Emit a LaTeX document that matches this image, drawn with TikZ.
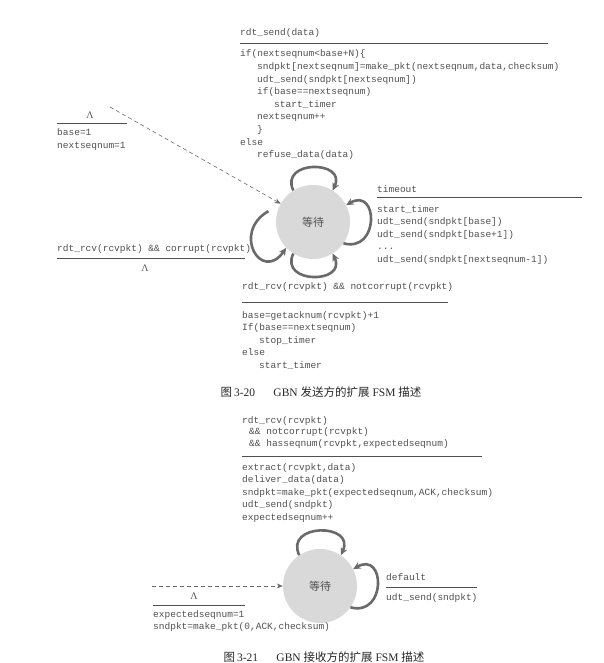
\documentclass[tikz,border=0pt]{standalone}
\usepackage{fontspec}
\setmainfont{Liberation Serif}
\setmonofont{Liberation Mono}
\newfontfamily\cjk{Noto Sans CJK SC}
\usetikzlibrary{arrows.meta}
\definecolor{txtgray}{HTML}{505050}
\definecolor{loopgray}{HTML}{6A6A6A}
\definecolor{stategray}{HTML}{D9D9D9}
\newcommand{\codefont}{\fontsize{9.5}{12.6}\selectfont\ttfamily}
\newcommand{\ind}{\hspace*{17pt}}
\begin{document}
\begin{tikzpicture}[x=1pt, y=1pt, >={Stealth[length=7.5pt, width=7pt]},
    code/.style={font=\codefont, text=txtgray, inner sep=0pt, anchor=base west, align=left},
    lam/.style={font=\fontsize{10}{10}\selectfont, text=txtgray, inner sep=0pt, anchor=base},
    state/.style={circle, fill=stategray, minimum size=74pt, inner sep=0pt,
      font=\cjk\fontsize{11}{11}\selectfont, text=txtgray},
    selfloop/.style={line width=2.6pt, draw=loopgray, ->},
    init/.style={draw=loopgray, line width=0.6pt, dash pattern=on 4pt off 3pt,
      -{Stealth[length=6pt, width=5pt]}},
    rule/.style={draw=txtgray, line width=0.7pt},
    caption/.style={font=\fontsize{11.5}{12}\selectfont, text=black!85}]
  \useasboundingbox (0,0) rectangle (604,-663);

  % sender (multi-line nodes sit on their last baseline)
  \node[state] (wait1) at (313,-222) {等待};
  \coordinate (start1) at (110,-107);
  \draw[init] (start1) -- (wait1);

  \node[lam] (lam1) at (90,-119) {Λ};
  \draw[rule] (57,-123) -- (127,-123);
  \node[code] (init1) at (57,-148.6) {base=1\\nextseqnum=1};

  \node[code] (sendev) at (240,-36) {rdt\_send(data)};
  \draw[rule] (240,-43) -- (548,-43);
  \node[code] (sendact) at (240,-157.8) {if(nextseqnum<base+N)\{\\
    \ind sndpkt[nextseqnum]=make\_pkt(nextseqnum,data,checksum)\\
    \ind udt\_send(sndpkt[nextseqnum])\\
    \ind if(base==nextseqnum)\\
    \ind\ind start\_timer\\
    \ind nextseqnum++\\
    \ind \}\\
    else\\
    \ind refuse\_data(data)};

  \node[code] (toev) at (377,-192) {timeout};
  \draw[rule] (377,-197) -- (582,-197);
  \node[code] (toact) at (377,-262.4) {start\_timer\\
    udt\_send(sndpkt[base])\\
    udt\_send(sndpkt[base+1])\\
    ...\\
    udt\_send(sndpkt[nextseqnum-1])};

  \node[code] (correv) at (57,-251) {rdt\_rcv(rcvpkt) \&\& corrupt(rcvpkt)};
  \draw[rule] (57,-258) -- (245,-258);
  \node[lam] (lam2) at (145,-271) {Λ};

  \node[code] (ackev) at (242,-289) {rdt\_rcv(rcvpkt) \&\& notcorrupt(rcvpkt)};
  \draw[rule] (242,-302) -- (448,-302);
  \node[code] (ackact) at (242,-368.4) {base=getacknum(rcvpkt)+1\\
    If(base==nextseqnum)\\
    \ind stop\_timer\\
    else\\
    \ind start\_timer};

  \draw[selfloop] (wait1.122) to[out=115, in=65, looseness=2.2] (wait1.58);
  \draw[selfloop] (wait1.-35) to[out=-15, in=30, looseness=2.5] (wait1.27);
  \draw[selfloop] (wait1.-122) to[out=-115, in=-65, looseness=2.2] (wait1.-58);
  \draw[selfloop] ([xshift=-9pt]wait1.163) to[out=210, in=235, looseness=2.7] (wait1.-136);

  \node[caption] (cap1) at (321,-392) {{\cjk 图}\,3-20\hspace{1.6em}GBN {\cjk 发送方的扩展} FSM {\cjk 描述}};

  % receiver
  \node[code, font=\fontsize{9.5}{11.7}\selectfont\ttfamily] (rcvev) at (242,-446.4) {rdt\_rcv(rcvpkt)\\
    \hspace*{7pt}\&\& notcorrupt(rcvpkt)\\
    \hspace*{7pt}\&\& hasseqnum(rcvpkt,expectedseqnum)};
  \draw[rule] (242,-456) -- (482,-456);
  \node[code] (rcvact) at (242,-520.4) {extract(rcvpkt,data)\\
    deliver\_data(data)\\
    sndpkt=make\_pkt(expectedseqnum,ACK,checksum)\\
    udt\_send(sndpkt)\\
    expectedseqnum++};

  \node[state] (wait2) at (320,-586) {等待};
  \coordinate (start2) at (152,-586);
  \draw[init] (start2) -- (wait2);

  \node[lam] (lam3) at (194,-599) {Λ};
  \draw[rule] (153,-605) -- (245,-605);
  \node[code] (init2) at (153,-629.6) {expectedseqnum=1\\sndpkt=make\_pkt(0,ACK,checksum)};

  \node[code] (defev) at (386,-580) {default};
  \draw[rule] (386,-587) -- (477,-587);
  \node[code] (defact) at (386,-600) {udt\_send(sndpkt)};

  \draw[selfloop] (wait2.124) to[out=115, in=65, looseness=2.2] (wait2.56);
  \draw[selfloop] (wait2.-35) to[out=-15, in=30, looseness=2.5] (wait2.27);

  \node[caption] (cap2) at (324,-657) {{\cjk 图}\,3-21\hspace{1.6em}GBN {\cjk 接收方的扩展} FSM {\cjk 描述}};
\end{tikzpicture}
\end{document}
